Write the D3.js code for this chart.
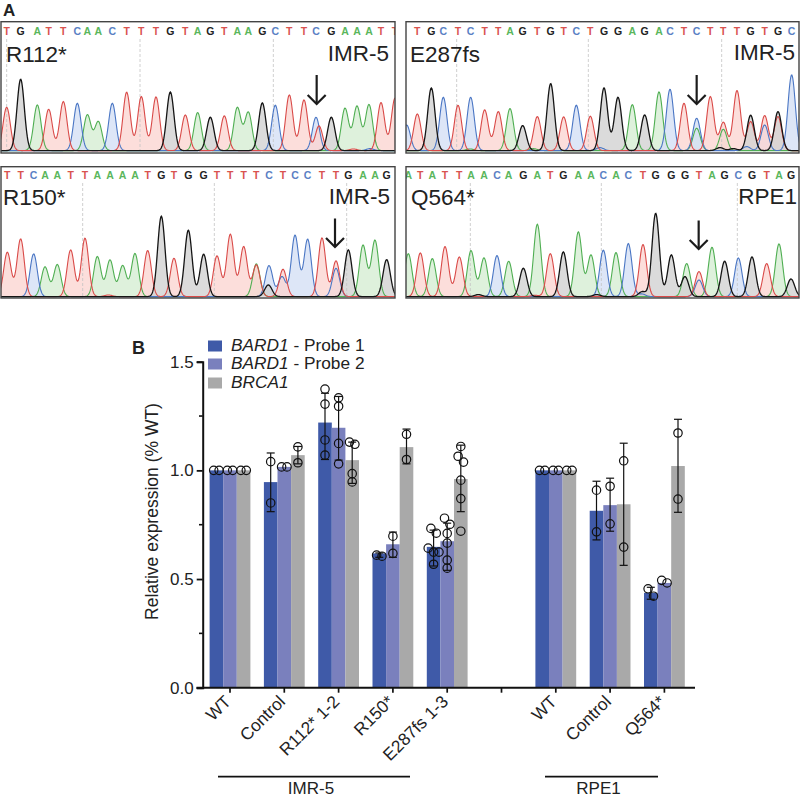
<!DOCTYPE html>
<html><head><meta charset="utf-8">
<script src="https://cdn.jsdelivr.net/npm/d3@7"></script>
<style>html,body{margin:0;padding:0;background:#fff}svg{display:block;font-family:"Liberation Sans",Arial,sans-serif}</style>
</head><body><svg id="c" width="800" height="798"></svg>
<script>
// ---- Panel A: sequencing traces (called base, scan position, signal) ----
const seq1Bases = "TGATTCAACTTTGTAGTAAGCTTCGAAATT";
const seq1Scan = [20,62,112,146,190,232,262,295,337,380,424,468,511,556,593,631,673,712,745,787,826,868,912,948,994,1035,1071,1107,1143,1185];
const seq1Signal = [130,214,137,124,147,142,107,87,142,175,162,161,176,107,114,100,104,129,115,143,136,167,152,100,100,127,133,138,144,157];
const seq1Minor = [["T",957,74],["C",1110,6],["T",1060,5]];

const seq2Bases = "TGCTCTTAGTGTCTGGAGACTCTTTGTGC";
const seq2Scan = [52,94,130,174,212,254,295,330,368,412,452,491,529,571,612,654,697,734,777,810,852,890,931,970,1011,1052,1094,1134,1175];
const seq2Signal = [110,188,160,136,160,122,117,126,75,102,201,101,136,103,188,160,138,107,176,184,142,97,162,85,180,106,105,117,227];
const seq2Minor = [["C",20,77],["A",890,67],["A",970,64],["T",1052,87],["C",1094,77],["T",1134,102],["G",960,9],["G",1000,6],["C",1040,12],["C",600,9],["A",210,5],["A",400,6]];

const seq3Bases = "TTCAATTAAAATGTGGTTTTCTCCTTGAAG";
const seq3Scan = [22,62,101,135,172,212,255,292,330,368,405,443,484,522,565,611,651,691,731,769,807,849,885,923,966,1008,1045,1089,1125,1160];
const seq3Signal = [133,173,128,89,96,140,175,120,110,93,129,138,241,115,199,127,122,187,150,95,93,82,184,172,176,107,140,154,169,111];
const seq3Minor = [["A",769,98],["G",805,35],["C",846,60],["C",1008,85],["T",325,5]];

const seq4Bases = "ATATTAACAGATGAACACTGGGTAGCGTAG";
const seq4Scan = [25,61,97,135,178,213,252,291,326,370,412,451,490,535,573,610,648,685,729,767,814,855,897,936,974,1015,1056,1100,1137,1173];
const seq4Signal = [129,131,114,150,119,138,116,123,106,85,217,129,134,194,125,139,132,159,156,250,125,60,75,148,106,116,119,99,158,53];
const seq4Minor = [["A",860,99],["C",897,50],["G",727,15],["C",725,8],["G",235,6],["G",590,6],["T",405,4]];

const seqTitles = ["R112*","E287fs","R150*","Q564*"];
const seqCells = ["IMR-5","IMR-5","IMR-5","RPE1"];
const seqGrid = [[20,420,820],[170,565,965],[248,643,1040],[211,604,1012]];
const seqArrow = [950,890,1005,896];

// ---- Panel B: relative expression ----
const categories = ["WT","Control","R112* 1-2","R150*","E287fs 1-3","","WT","Control","Q564*"];
const seriesNames = ["BARD1","BARD1","BRCA1"];
const seriesSuffix = [" - Probe 1"," - Probe 2",""];
const probe1Means = [1.0,0.946,1.22,0.618,0.648,null,1.0,0.814,0.436];
const probe2Means = [1.0,1.016,1.196,0.66,0.674,null,1.0,0.84,0.482];
const brca1Means = [1.0,1.07,1.047,1.107,0.96,null,1.0,0.844,1.02];
const probe1Err = [null,[0.81,1.08],[1.05,1.355],[0.6,0.62],[0.56,0.725],null,null,[0.68,0.95],[0.407,0.462]];
const probe2Err = [null,null,[1.047,1.34],[0.6,0.716],[0.54,0.757],null,null,[0.72,0.964],null];
const brca1Err = [null,[1.03,1.11],[0.94,1.13],[1.03,1.19],[0.81,1.116],null,null,[0.563,1.125],[0.807,1.235]];
const probe1Pts = [[1,1],[0.85,1.04],[1.374,1.305,1.14,1.07],[0.605,0.61],[0.733,0.711,0.642,0.624,0.624,0.568],[],[1,1],[0.909,0.717],[0.421,0.455]];
const probe2Pts = [[1,1],[1.016,1.016],[1.334,1.295,1.124,1.03],[0.697,0.618],[0.78,0.752,0.71,0.665,0.587,0.55],[],[1,1],[0.927,0.754],[0.482,0.494]];
const brca1Pts = [[1,1],[1.108,1.035],[1.12,1.13,0.985,0.947],[1.166,1.05],[1.11,1.065,1.038,0.955,0.87,0.72],[],[1,1],[1.044,0.647],[1.172,0.868]];
const yTicks = [0,0.5,1,1.5];
const yMinor = [0.25,0.75,1.25];

const seriesColors = ["#3f5aa8","#7a80bd","#a9a9a9"];
const traceColor = {A:"#4fae52",C:"#4a76c4",G:"#151515",T:"#d94a48"};
const tintColor = {A:"#d6eed3",C:"#d5e0f5",G:"#d2d2d2",T:"#fbd6d2"};
const letterColor = {A:"#5ab65c",C:"#5a80c4",G:"#222",T:"#d9534f"};

const svg = d3.select("#c");
const FONT = '"Liberation Sans",Arial,sans-serif';
svg.append("text").attr("x",3).attr("y",15.5).attr("font-size",17).attr("font-weight","bold").attr("fill","#222").text("A");
svg.append("text").attr("x",132).attr("y",354).attr("font-size",18).attr("font-weight","bold").attr("fill","#222").text("B");

const frames = [
 {l:1,r:395,t:21.7,b:153,base:150.6,let:35,tx:6,ty:62,cx:389,cy:61,d:[3,1185],bases:seq1Bases,scan:seq1Scan,sig:seq1Signal,minor:seq1Minor},
 {l:406,r:799,t:21.7,b:153,base:150.6,let:35,tx:410,ty:62,cx:795,cy:60,d:[18,1197],bases:seq2Bases,scan:seq2Scan,sig:seq2Signal,minor:seq2Minor},
 {l:1,r:395,t:166.7,b:298,base:296.6,let:179,tx:3,ty:205,cx:390,cy:204,d:[3,1185],bases:seq3Bases,scan:seq3Scan,sig:seq3Signal,minor:seq3Minor},
 {l:406,r:799,t:166.7,b:298,base:296.6,let:179,tx:411,ty:205,cx:797,cy:204,d:[18,1197],bases:seq4Bases,scan:seq4Scan,sig:seq4Signal,minor:seq4Minor}
];
const PEAK_SD = 11;
frames.forEach((f,i)=>{
  const g = svg.append("g");
  const clipId = "clip"+i;
  svg.append("clipPath").attr("id",clipId).append("rect").attr("x",f.l).attr("y",f.t).attr("width",f.r-f.l).attr("height",f.b-f.t);
  const x = d3.scaleLinear().domain(f.d).range([f.l,f.r]);
  const y = d3.scaleLinear().domain([0,300]).range([f.base,f.base-100]);
  const peaks = Array.from(f.bases).map((b,k)=>({b,s:f.scan[k],h:f.sig[k]}))
     .concat(f.minor.map(m=>({b:m[0],s:m[1],h:m[2]})));
  const grid = d3.range(f.d[0]-20,f.d[1]+20,1.5);
  const body = g.append("g").attr("clip-path",`url(#${clipId})`);
  ["A","C","T","G"].forEach(b=>{
    const ps = peaks.filter(p=>p.b===b);
    const curve = grid.map(s=>[s,d3.sum(ps,p=>p.h*Math.exp(-((s-p.s)**2)/(2*PEAK_SD*PEAK_SD)))]);
    body.append("path").attr("d",d3.area().x(d=>x(d[0])).y0(y(0)).y1(d=>y(d[1]))(curve))
      .attr("fill",tintColor[b]).attr("fill-opacity",0.8);
  });
  seqGrid[i].forEach(s=>{
    body.append("line").attr("x1",x(s)).attr("x2",x(s)).attr("y1",f.let+4).attr("y2",f.base)
      .attr("stroke","#c4c4c4").attr("stroke-width",0.8).attr("stroke-dasharray","3,2");
  });
  ["A","C","T","G"].forEach(b=>{
    const ps = peaks.filter(p=>p.b===b);
    const curve = grid.map(s=>[s,d3.sum(ps,p=>p.h*Math.exp(-((s-p.s)**2)/(2*PEAK_SD*PEAK_SD)))]);
    body.append("path").attr("d",d3.line().x(d=>x(d[0])).y(d=>y(d[1]))(curve))
      .attr("fill","none").attr("stroke",traceColor[b]).attr("stroke-width",b==="G"?1.3:1.1);
  });
  body.selectAll(null).data(Array.from(f.bases).map((b,k)=>[b,f.scan[k]])).join("text")
    .attr("x",d=>x(d[1])).attr("y",f.let).attr("text-anchor","middle").attr("font-size",10.5).attr("font-weight","bold")
    .attr("fill",d=>letterColor[d[0]]).text(d=>d[0]);
  g.append("rect").attr("x",f.l).attr("y",f.t).attr("width",f.r-f.l).attr("height",f.b-f.t)
    .attr("fill","none").attr("stroke","#444").attr("stroke-width",1.4);
  g.append("text").attr("x",f.tx).attr("y",f.ty).attr("font-size",22.5).attr("fill","#222").text(seqTitles[i]);
  g.append("text").attr("x",f.cx).attr("y",f.cy).attr("text-anchor","end").attr("font-size",22.5).attr("fill","#222").text(seqCells[i]);
  const ax = x(seqArrow[i]);
  const aTop = i<2 ? 75 : i===2 ? 218.5 : 220.5, aTip = i<2 ? 104 : i===2 ? 247 : 249;
  const a = g.append("g").attr("fill","none").attr("stroke","#1c1c1c").attr("stroke-width",2.2);
  a.append("line").attr("x1",ax).attr("x2",ax).attr("y1",aTop).attr("y2",aTip);
  a.append("path").attr("d",`M${ax-9},${aTip-9}L${ax},${aTip}L${ax+9},${aTip-9}`);
});

const y = d3.scaleLinear().domain([0,1.5]).range([687.7,361.7]);
const x0 = d3.scaleBand().domain(d3.range(categories.length)).range([202.85,691.55]);
const x1 = d3.scaleBand().domain([0,1,2]).range([-20.4,20.4]);
const means = [probe1Means,probe2Means,brca1Means];
const errs = [probe1Err,probe2Err,brca1Err];
const pts = [probe1Pts,probe2Pts,brca1Pts];
const chart = svg.append("g");
means.forEach((ms,si)=>{
  chart.append("g").selectAll("rect").data(ms.map((v,c)=>({v,c})).filter(d=>d.v!=null)).join("rect")
    .attr("x",d=>x0(d.c)+x0.bandwidth()/2+x1(si)).attr("width",x1.bandwidth())
    .attr("y",d=>y(d.v)).attr("height",d=>y(0)-y(d.v)).attr("fill",seriesColors[si]);
});
const cx = (c,si)=>x0(c)+x0.bandwidth()/2+x1(si)+x1.bandwidth()/2;
const marks = chart.append("g");
errs.forEach((es,si)=>{
  es.forEach((e,c)=>{
    if(!e) return;
    const X = cx(c,si);
    marks.append("line").attr("x1",X).attr("x2",X).attr("y1",y(e[0])).attr("y2",y(e[1])).attr("stroke","#111").attr("stroke-width",1.2);
    e.forEach(v=>marks.append("line").attr("x1",X-4).attr("x2",X+4).attr("y1",y(v)).attr("y2",y(v)).attr("stroke","#111").attr("stroke-width",1.2));
  });
});
const SWARM_GAP = 8, SWARM_STEP = 5.4;
pts.forEach((ps,si)=>{
  ps.forEach((vals,c)=>{
    const sorted = vals.slice().sort((a,b)=>b-a);
    const chains = [];
    sorted.forEach(v=>{
      const last = chains[chains.length-1];
      if(last && y(v)-y(last[last.length-1])<SWARM_GAP) last.push(v); else chains.push([v]);
    });
    chains.forEach(ch=>ch.forEach((v,k)=>{
      marks.append("circle").attr("cx",cx(c,si)+(k-(ch.length-1)/2)*SWARM_STEP).attr("cy",y(v)).attr("r",4.2)
        .attr("fill","none").attr("stroke","#111").attr("stroke-width",1.2);
    }));
  });
});
const yAxis = chart.append("g").attr("transform","translate(202.7,0)").call(d3.axisLeft(y).tickValues(yTicks).tickSize(6).tickPadding(3).tickFormat(d3.format(".1f")));
yAxis.select(".domain").attr("stroke","#111").attr("stroke-width",2);
yAxis.selectAll(".tick line").attr("stroke","#111").attr("stroke-width",1.8);
yAxis.selectAll("text").attr("font-size",17).attr("font-family",FONT).attr("fill","#222");
chart.append("g").selectAll("line").data(yMinor).join("line").attr("x1",199).attr("x2",202.7).attr("y1",d=>y(d)).attr("y2",d=>y(d)).attr("stroke","#111").attr("stroke-width",1.6);
const xAxis = chart.append("g").attr("transform","translate(0,687.7)").call(d3.axisBottom(x0).tickSize(5).tickFormat(i=>categories[i]));
xAxis.select(".domain").remove();
xAxis.selectAll(".tick line").attr("stroke","#111").attr("stroke-width",1.7);
xAxis.selectAll("text").attr("font-size",17.3).attr("font-family",FONT).attr("fill","#222")
  .attr("text-anchor","end").attr("dx",0).attr("dy",0).attr("y",0)
  .attr("transform","translate(2,15) rotate(-45)");
chart.append("line").attr("x1",196.5).attr("x2",695).attr("y1",687.7).attr("y2",687.7).attr("stroke","#111").attr("stroke-width",2);
svg.append("text").attr("transform","translate(157.5,511.5) rotate(-90)").attr("text-anchor","middle").attr("font-size",17.5).attr("fill","#222").text("Relative expression (% WT)");
seriesNames.forEach((n,i)=>{
  const ly = [351,369,388][i];
  svg.append("rect").attr("x",208).attr("y",ly-10.5).attr("width",14).attr("height",11).attr("fill",seriesColors[i]);
  const t = svg.append("text").attr("x",231).attr("y",ly).attr("font-size",17.3).attr("fill","#222");
  t.append("tspan").attr("font-style","italic").text(n);
  t.append("tspan").text(seriesSuffix[i]);
});
const cellGroups = [["IMR-5",218,410],["RPE1",545,658]];
cellGroups.forEach(g=>{
  svg.append("line").attr("x1",g[1]).attr("x2",g[2]).attr("y1",776.7).attr("y2",776.7).attr("stroke","#111").attr("stroke-width",1.8);
  svg.append("text").attr("x",(g[1]+g[2])/2-3).attr("y",794.3).attr("text-anchor","middle").attr("font-size",17).attr("fill","#222").text(g[0]);
});
</script></body></html>
